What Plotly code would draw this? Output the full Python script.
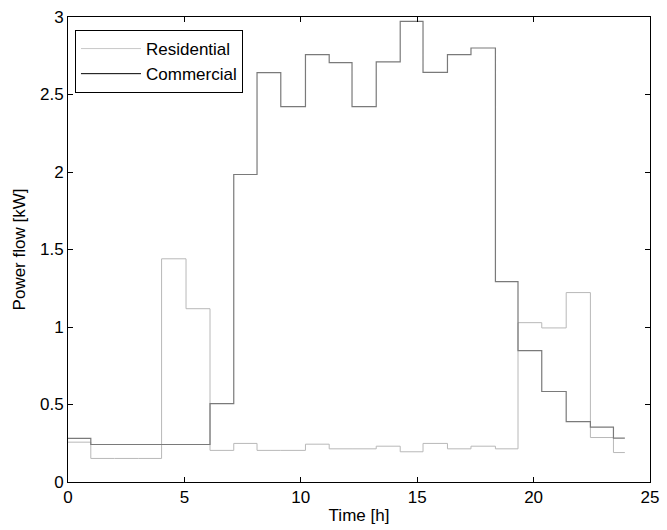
import plotly.graph_objects as go

# Step start times [h] and final end time
step_times = [0, 0.98, 2.0, 3.02, 4.02, 5.07, 6.1, 7.12, 8.12, 9.14, 10.2, 11.22,
              12.2, 13.24, 14.27, 15.25, 16.3, 17.31, 18.36, 19.33, 20.35, 21.4,
              22.44, 23.43]
end_time = 23.92

residential = [0.257, 0.152, 0.152, 0.152, 1.44, 1.118, 0.204, 0.249, 0.204, 0.204,
               0.244, 0.214, 0.214, 0.231, 0.195, 0.249, 0.214, 0.231, 0.214,
               1.028, 0.994, 1.222, 0.287, 0.19]
commercial = [0.281, 0.242, 0.242, 0.242, 0.242, 0.242, 0.506, 1.984, 2.641, 2.422,
              2.757, 2.705, 2.422, 2.71, 2.972, 2.643, 2.757, 2.80, 1.293, 0.848,
              0.584, 0.39, 0.354, 0.283]

x_ticks = [0, 5, 10, 15, 20, 25]
y_ticks = [0, 0.5, 1, 1.5, 2, 2.5, 3]

xs = step_times + [end_time]
res_y = residential + [residential[-1]]
com_y = commercial + [commercial[-1]]

fig = go.Figure()
fig.add_trace(go.Scatter(x=xs, y=res_y, mode="lines", line_shape="hv",
                         line=dict(color="#b8b8b8", width=1), showlegend=False))
fig.add_trace(go.Scatter(x=xs, y=com_y, mode="lines", line_shape="hv",
                         line=dict(color="#7a7a7a", width=1.2), showlegend=False))
# legend entries
fig.add_trace(go.Scatter(x=[None], y=[None], mode="lines", name="Residential",
                         line=dict(color="#c8c8c8", width=1)))
fig.add_trace(go.Scatter(x=[None], y=[None], mode="lines", name="Commercial",
                         line=dict(color="#000000", width=1)))

axis_common = dict(showline=True, linecolor="black", linewidth=1, mirror="ticks",
                   ticks="inside", ticklen=5, tickcolor="black", showgrid=False,
                   zeroline=False, tickfont=dict(size=17, color="black"),
                   ticklabeloverflow="allow")

fig.update_layout(
    width=667, height=530,
    margin=dict(l=68, r=8, t=16, b=48),
    paper_bgcolor="white", plot_bgcolor="white",
    font=dict(family="Liberation Sans, Arial, sans-serif", size=17, color="black"),
    xaxis=dict(range=[0, 25], tickvals=x_ticks,
               title=dict(text="Time [h]", standoff=2, font=dict(size=17)), **axis_common),
    yaxis=dict(range=[0, 3], tickvals=y_ticks,
               title=dict(text="Power flow [kW]", standoff=10, font=dict(size=17)), **axis_common),
    legend=dict(x=0.012, y=0.972, xanchor="left", yanchor="top",
                bordercolor="black", borderwidth=1, bgcolor="white",
                font=dict(size=17), tracegroupgap=0, itemwidth=60),
)

fig.write_html("out.html")
